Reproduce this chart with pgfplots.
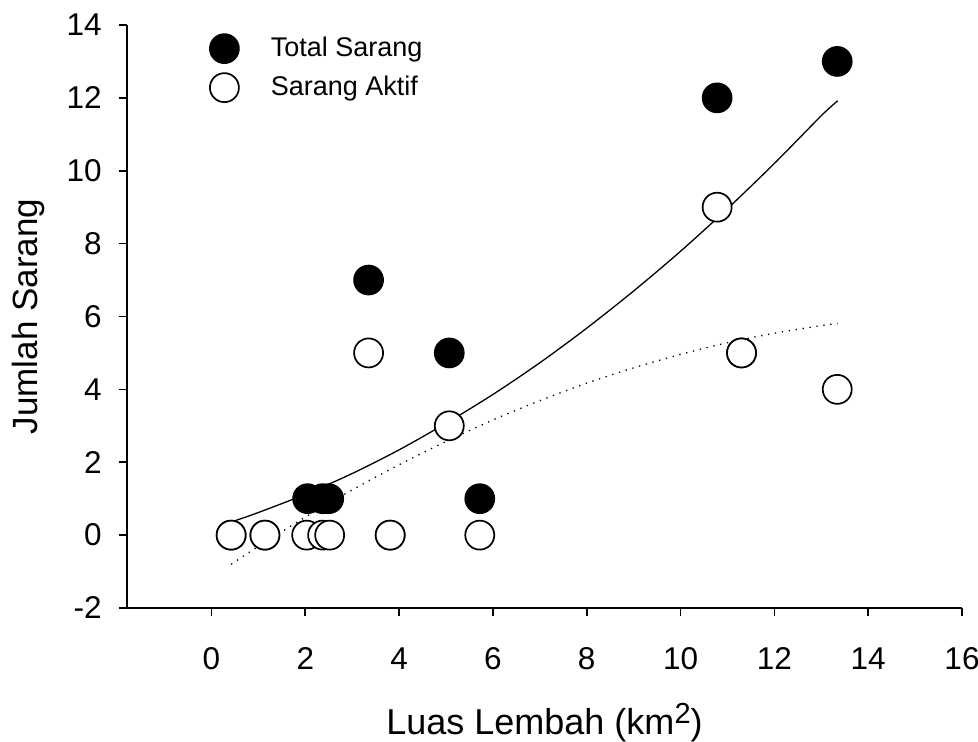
\documentclass[border=0pt]{standalone}
\usepackage{fontspec}
\setmainfont{Liberation Sans}
\usepackage{pgfplots}
\pgfplotsset{compat=1.18}

% fitted curves
\pgfplotstableread{
x y
0.42 0.36
1 0.62
2 1.12
3 1.69
4 2.34
5 3.07
6 3.86
7 4.73
8 5.68
9 6.70
10 7.79
11 8.96
12 10.20
13 11.51
13.35 11.92
}\fitsolid
\pgfplotstableread{
x y
0.42 -0.80
1 -0.31
2 0.49
3 1.24
4 1.93
5 2.57
6 3.16
7 3.69
8 4.17
9 4.59
10 4.96
11 5.28
12 5.54
13 5.75
13.35 5.81
}\fitdot

\begin{document}
\begin{tikzpicture}
\begin{axis}[
  name=ax, scale only axis, width=417.5pt, height=291.5pt,
  xmin=-1.8, xmax=16, ymin=-2, ymax=14,
  axis x line*=bottom, axis y line*=left,
  axis line style={line width=0.85pt},
  xtick={0,2,...,16}, ytick={-2,0,...,14},
  xticklabels={0,2,4,6,8,10,12,14,16},
  yticklabels={-2,0,2,4,6,8,10,12,14},
  tick align=outside, major tick length=4pt,
  tick style={line width=0.85pt, black},
  ticklabel style={font=\fontsize{15.75pt}{18pt}\selectfont, inner sep=0pt},
  xticklabel style={anchor=base, yshift=-27pt},
  yticklabel style={anchor=east, xshift=-8.5pt},
  xlabel={Luas Lembah (km\raisebox{0.6ex}{\fontsize{14.5pt}{14.5pt}\selectfont 2})},
  ylabel={Jumlah Sarang},
  xlabel style={font=\fontsize{18pt}{20pt}\selectfont, at={(rel axis cs:0.5,-0.2178)}, anchor=base, inner sep=0pt},
  ylabel style={font=\fontsize{17.5pt}{20pt}\selectfont, at={(rel axis cs:-0.118,0.5)}, anchor=center, inner sep=0pt},
  legend style={draw=none, fill=none, at={(rel axis cs:0.0988,0.985)}, anchor=north west,
    font=\fontsize{13.5pt}{15pt}\selectfont, inner sep=0pt, row sep=5pt,
    nodes={inner sep=0pt}},
  legend cell align=left,
  legend image code/.code={\path (0pt,0pt) (23pt,0pt); \draw[#1] plot coordinates {(0pt,0pt)};},
  clip=false,
]
\addplot[black, line width=0.65pt, smooth, forget plot] table {\fitsolid};
\addplot[black, line width=0.65pt, dash pattern=on 0.65pt off 2.85pt, smooth, forget plot] table {\fitdot};
\addplot[only marks, mark=*, mark size=7.25pt, mark options={fill=black, draw=black, line width=0.85pt}]
  coordinates {(0.42,0)(1.14,0)(2.05,1)(2.37,1)(2.5,1)(3.35,7)(3.81,0)(5.07,5)(5.72,1)(10.78,12)(11.3,5)(13.34,13)};
\addlegendentry{Total Sarang}
\addplot[only marks, mark=*, mark size=7.25pt, mark options={fill=white, draw=black, line width=0.85pt}]
  coordinates {(0.42,0)(1.14,0)(2.03,0)(2.37,0)(2.52,0)(3.35,5)(3.81,0)(5.07,3)(5.72,0)(10.78,9)(11.3,5)(13.34,4)};
\addlegendentry{Sarang Aktif}
\end{axis}
% fixed page frame: 978x742 px at 0.5pt per px
\pgfresetboundingbox
\path (ax.south west) ++(-63.5pt,-67pt);
\path (ax.north east) ++(8pt,12.5pt);
\end{tikzpicture}
\end{document}
